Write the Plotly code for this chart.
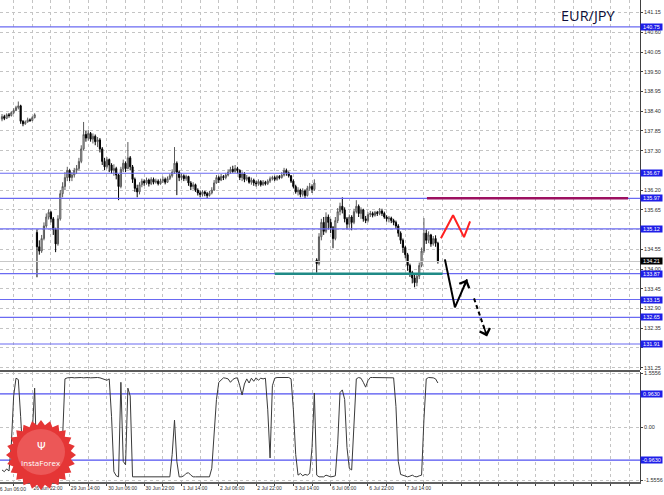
import numpy as np
import plotly.graph_objects as go

# ---------------- data ----------------
symbol = "EUR/JPY"

# time labels (every 16 H1 bars); first label sits 3 bars before the first candle
time_labels = ["26 Jun 06:00", "26 Jun 22:00", "29 Jun 14:00", "30 Jun 06:00",
               "30 Jun 22:00", "1 Jul 14:00", "2 Jul 06:00", "2 Jul 22:00",
               "3 Jul 14:00", "6 Jul 06:00", "6 Jul 22:00", "7 Jul 14:00"]
first_label_bar = -3
bars_per_label = 16
bars_per_grid = 8

price_ticks = [131.25, 131.80, 132.35, 132.90, 133.45, 134.00, 134.55, 135.10,
               135.65, 136.20, 136.75, 137.30, 137.85, 138.40, 138.95, 139.50,
               140.05, 140.60, 141.15]

close = [
    # week 1 (26 Jun 09:00 - 23:00)
    138.25, 138.20, 138.30, 138.28, 138.36, 138.42, 138.50, 138.55, 138.12, 138.05,
    138.10, 138.16, 138.14, 138.22, 138.30,
    # week 2 (29 Jun - 3 Jul)
    134.62, 134.50, 134.85, 135.20, 135.45, 135.58, 135.40, 135.10, 134.70, 135.40,
    136.10, 136.30, 136.55, 136.75, 136.55, 136.62, 136.75, 136.80, 137.00, 137.35,
    137.75, 137.65, 137.78, 137.62, 137.70, 137.55, 137.60, 137.35, 137.00, 136.85,
    137.05, 136.90, 136.75, 136.80, 136.62, 136.30, 136.78, 136.95, 136.80, 137.10,
    136.85, 136.50, 136.25, 136.15, 136.35, 136.45, 136.40, 136.48, 136.38, 136.50,
    136.42, 136.45, 136.38, 136.45, 136.50, 136.42, 136.52, 136.60, 136.70, 136.95,
    136.70, 136.55, 136.60, 136.52, 136.58, 136.40, 136.30, 136.35, 136.20, 136.12,
    136.08, 136.15, 136.10, 136.05, 136.12, 136.20, 136.40, 136.55, 136.48, 136.58,
    136.55, 136.62, 136.70, 136.78, 136.72, 136.80, 136.75, 136.55, 136.65, 136.50,
    136.55, 136.42, 136.48, 136.40, 136.38, 136.44, 136.35, 136.42, 136.38, 136.45,
    136.52, 136.55, 136.50, 136.58, 136.55, 136.62, 136.75, 136.68, 136.60, 136.45,
    136.30, 136.15, 136.20, 136.08, 136.18, 136.05, 136.25, 136.30, 136.22, 136.40,
    # week 3 (6 Jul - 8 Jul)
    134.15, 134.90, 135.30, 135.05, 135.45, 135.30, 135.15, 134.85, 135.35, 135.60,
    135.75, 135.65, 135.40, 135.25, 135.45, 135.30, 135.60, 135.75, 135.55, 135.65,
    135.40, 135.35, 135.52, 135.55, 135.50, 135.58, 135.55, 135.62, 135.55, 135.45,
    135.40, 135.42, 135.35, 135.30, 135.20, 135.00, 134.80, 134.60, 134.40, 134.10,
    133.90, 133.75, 133.62, 133.80, 134.10, 134.50, 135.00, 134.80, 134.95, 134.70,
    134.85, 134.72, 134.21,
]
high = [
    138.32, 138.30, 138.34, 138.35, 138.40, 138.48, 138.55, 138.67, 138.58, 138.15,
    138.14, 138.22, 138.20, 138.26, 138.34,
    135.10, 134.80, 134.95, 135.30, 135.55, 135.66, 135.62, 135.45, 135.15, 135.50,
    136.20, 136.42, 136.70, 136.85, 136.78, 136.70, 136.82, 136.90, 137.10, 137.45,
    138.10, 137.85, 137.88, 137.82, 137.78, 137.75, 137.68, 137.65, 137.40, 137.10,
    137.12, 137.08, 136.95, 136.92, 136.85, 136.65, 136.85, 137.05, 137.00, 137.54,
    137.15, 136.90, 136.55, 136.35, 136.42, 136.52, 136.50, 136.55, 136.52, 136.56,
    136.55, 136.52, 136.50, 136.52, 136.58, 136.55, 136.58, 136.66, 136.78, 137.40,
    137.00, 136.75, 136.68, 136.64, 136.63, 136.60, 136.45, 136.42, 136.38, 136.25,
    136.18, 136.20, 136.18, 136.15, 136.18, 136.28, 136.48, 136.62, 136.60, 136.65,
    136.62, 136.68, 136.78, 136.85, 136.88, 136.90, 136.85, 136.78, 136.72, 136.70,
    136.62, 136.58, 136.55, 136.52, 136.46, 136.50, 136.48, 136.48, 136.46, 136.50,
    136.58, 136.60, 136.60, 136.62, 136.62, 136.70, 136.82, 136.80, 136.72, 136.62,
    136.50, 136.35, 136.28, 136.24, 136.25, 136.22, 136.32, 136.40, 136.36, 136.50,
    134.30, 135.00, 135.40, 135.45, 135.58, 135.52, 135.40, 135.20, 135.45, 135.70,
    135.85, 136.00, 135.72, 135.45, 135.52, 135.50, 135.68, 135.92, 135.80, 135.72,
    135.68, 135.48, 135.58, 135.62, 135.60, 135.62, 135.62, 135.70, 135.68, 135.60,
    135.50, 135.48, 135.46, 135.40, 135.35, 135.25, 135.05, 134.85, 134.65, 134.45,
    134.15, 133.95, 133.85, 133.88, 134.18, 134.60, 135.42, 135.10, 135.05, 134.98,
    134.92, 134.94, 134.76,
]
low = [
    138.12, 138.15, 138.18, 138.22, 138.25, 138.32, 138.40, 138.45, 138.05, 137.98,
    138.02, 138.08, 138.10, 138.12, 138.20,
    133.77, 134.40, 134.45, 134.80, 135.15, 135.38, 135.30, 134.95, 134.47, 134.65,
    135.35, 136.00, 136.20, 136.45, 136.45, 136.45, 136.55, 136.65, 136.75, 136.95,
    137.30, 137.55, 137.58, 137.55, 137.50, 137.45, 137.40, 137.25, 136.90, 136.76,
    136.80, 136.70, 136.66, 136.60, 136.50, 135.92, 136.25, 136.70, 136.70, 136.78,
    136.75, 136.40, 136.15, 136.00, 136.08, 136.28, 136.32, 136.35, 136.30, 136.34,
    136.36, 136.38, 136.33, 136.35, 136.40, 136.36, 136.40, 136.48, 136.55, 136.65,
    136.06, 136.45, 136.48, 136.45, 136.46, 136.32, 136.20, 136.22, 136.15, 136.05,
    136.00, 136.02, 136.03, 135.98, 136.02, 136.08, 136.18, 136.38, 136.40, 136.45,
    136.48, 136.50, 136.58, 136.65, 136.68, 136.68, 136.66, 136.48, 136.45, 136.42,
    136.45, 136.38, 136.35, 136.32, 136.30, 136.32, 136.30, 136.32, 136.33, 136.34,
    136.40, 136.47, 136.45, 136.46, 136.50, 136.52, 136.58, 136.60, 136.55, 136.40,
    136.25, 136.10, 136.05, 136.00, 136.02, 135.97, 136.02, 136.18, 136.12, 136.18,
    133.90, 134.10, 134.80, 134.95, 135.00, 135.10, 135.00, 134.58, 134.80, 135.28,
    135.50, 135.55, 135.30, 135.10, 135.15, 135.08, 135.25, 135.55, 135.45, 135.40,
    135.32, 135.28, 135.30, 135.45, 135.44, 135.46, 135.48, 135.50, 135.48, 135.40,
    135.32, 135.30, 135.28, 135.22, 135.12, 134.90, 134.70, 134.45, 134.30, 133.95,
    133.78, 133.60, 133.49, 133.52, 133.72, 134.05, 134.45, 134.70, 134.72, 134.62,
    134.65, 134.62, 134.15,
]
first_open = 138.18
week_start_bars = [15, 135]
week_start_opens = [135.02, 134.25]

oscillator = [
    -1.25, -1.30, -1.22, -1.28, -0.50, 0.90, 1.42, 1.38, 0.30, -0.90,
    -1.25, -1.45, -1.44, -0.30, 1.13, -1.30, -1.45, -1.45, -1.44, -1.45,
    -1.45, -1.45, -1.44, -1.45, -1.45, -1.45, -0.30, 1.40, 1.43, 1.44,
    1.44, 1.43, 1.44, 1.44, 1.44, 1.43, 1.44, 1.44, 1.43, 1.44,
    1.44, 1.44, 1.43, 1.40, 1.38, 1.36, 1.40, 0.30, -1.30, -1.42,
    -1.45, 1.30, -1.00, -1.10, 1.13, 0.90, -1.45, -1.45, -1.45, -1.45,
    -1.45, -1.45, -1.45, -1.45, -1.45, -1.45, -1.45, -1.45, -1.45, -1.45,
    -1.45, -1.45, -1.45, -0.80, 0.20, -1.00, -1.45, -1.45, -1.42, -1.35,
    -1.33, -1.40, -1.45, -1.45, -1.45, -1.45, -1.45, -1.45, -1.45, -1.45,
    -1.20, -0.20, 0.80, 1.30, 1.38, 1.43, 1.42, 1.40, 1.30, 1.38,
    1.42, 1.43, 1.20, 0.93, 1.25, 1.40, 1.28, 1.42, 1.33, 1.43,
    1.36, 1.42, 1.40, 1.42, 0.50, -0.90, 1.20, 1.42, 1.44, 1.44,
    1.44, 1.44, 1.44, 1.44, 1.40, 0.50, -0.80, -1.40, -1.35, -1.42,
    -1.38, -1.40, -1.35, -0.60, 0.99, -1.40, -1.45, -1.44, -1.45, -1.40,
    -1.43, -1.45, -1.44, -1.42, -0.50, 1.00, 1.08, 0.80, -0.60, -1.20,
    -1.25, 0.30, 1.40, 1.44, 1.42, 1.30, 1.16, 1.35, 1.44, 1.44,
    1.44, 1.43, 1.44, 1.44, 1.44, 1.43, 1.44, 1.44, 1.43, 0.60,
    -1.00, -1.38, -1.40, -1.42, -1.45, -1.43, -1.40, -1.44, -1.45, -1.42,
    -1.40, 0.20, 1.40, 1.44, 1.44, 1.43, 1.40, 1.28,
]
osc_level = 0.9630
osc_extreme = 1.5556

levels = [140.75, 136.67, 135.97, 135.12, 133.87, 133.15, 132.65, 131.91]
last_price = 134.21

support_level = 133.87
support_bars = [117, 189]
resistance_level = 135.97
resistance_bars = [182.3, 268.6]

red_path_x = [188.3, 193.5, 198.2, 200.8]
red_path_y = [134.86, 135.50, 134.89, 135.33]
arrow_solid_x = [190.0, 194.3, 199.5]
arrow_solid_y = [134.27, 132.93, 133.71]
arrow_dash_x = [202.5, 208.1]
arrow_dash_y = [133.18, 132.12]

# ---------------- geometry ----------------
W, H = 664, 495
ML, MR, MT, MB = 0, 24, 0, 13
PW, PH = W - ML - MR, H - MT - MB          # plot area 640 x 482
PRICE_H, SEP = 370, 2
X_RANGE = [-0.86, 273.7]
Y_RANGE = [131.185, 141.50]
OSC_RANGE = [-1.60, 1.60]

n = len(close)
bars = list(range(n))
opens = [first_open] + close[:-1]
for b, o in zip(week_start_bars, week_start_opens):
    opens[b] = o

FONT = "Liberation Sans"
AX_COL = "#404040"
GRID_COL = "#c4c4c4"
LEVEL_COL = "#6a6af2"
BOX_COL = "#1e1ee8"

fig = go.Figure()

# level lines
for lv in levels:
    fig.add_trace(go.Scatter(x=X_RANGE, y=[lv, lv], mode="lines",
                             line=dict(color=LEVEL_COL, width=1.2),
                             hoverinfo="skip", showlegend=False,
                             xaxis="x", yaxis="y"))
fig.add_trace(go.Scatter(x=X_RANGE, y=[last_price, last_price], mode="lines",
                         line=dict(color="#c8c8c8", width=1),
                         hoverinfo="skip", showlegend=False))

# candles
fig.add_trace(go.Candlestick(
    x=bars, open=opens, high=high, low=low, close=close,
    increasing=dict(line=dict(color="#5a5a5a", width=1), fillcolor="#d8d8d8"),
    decreasing=dict(line=dict(color="#000000", width=1), fillcolor="#000000"),
    whiskerwidth=0, hoverinfo="skip", showlegend=False, xaxis="x", yaxis="y"))

# support / resistance segments
fig.add_trace(go.Scatter(x=support_bars, y=[support_level] * 2, mode="lines",
                         line=dict(color="#1f8a86", width=2.5),
                         hoverinfo="skip", showlegend=False))
fig.add_trace(go.Scatter(x=resistance_bars, y=[resistance_level] * 2, mode="lines",
                         line=dict(color="#9c1060", width=2.5),
                         hoverinfo="skip", showlegend=False))

# forecast drawings
fig.add_trace(go.Scatter(x=red_path_x, y=red_path_y, mode="lines",
                         line=dict(color="#ff2020", width=2),
                         hoverinfo="skip", showlegend=False))
fig.add_trace(go.Scatter(x=arrow_solid_x, y=arrow_solid_y, mode="lines",
                         line=dict(color="#000000", width=2),
                         hoverinfo="skip", showlegend=False))
fig.add_trace(go.Scatter(x=arrow_dash_x, y=arrow_dash_y, mode="lines",
                         line=dict(color="#000000", width=2, dash="4px,3px"),
                         hoverinfo="skip", showlegend=False))

# oscillator
for lv in (osc_level, -osc_level):
    fig.add_trace(go.Scatter(x=X_RANGE, y=[lv, lv], mode="lines",
                             line=dict(color="#5050f0", width=1.2),
                             hoverinfo="skip", showlegend=False,
                             xaxis="x2", yaxis="y2"))
fig.add_trace(go.Scatter(x=bars, y=oscillator, mode="lines",
                         line=dict(color="#3a3a3a", width=1),
                         hoverinfo="skip", showlegend=False,
                         xaxis="x2", yaxis="y2"))

# ---------------- axes ----------------
grid_vals = [first_label_bar + bars_per_grid * m for m in range(0, 40)
             if X_RANGE[0] <= first_label_bar + bars_per_grid * m <= X_RANGE[1]]
step = bars_per_label // bars_per_grid
grid_text = []
for v in grid_vals:
    m = (v - first_label_bar) // bars_per_grid
    k = m // step
    grid_text.append(time_labels[k] if (m % step == 0 and k < len(time_labels)) else "")

# price tick labels that sit under a level box are hidden by it (as on the terminal)
price_text = ["" if min(abs(v - lv) for lv in levels) < 0.12 else f"{v:.2f}"
              for v in price_ticks]

price_dom0 = (PH - PRICE_H) / PH
osc_dom1 = (PH - PRICE_H - SEP) / PH

fig.update_layout(
    width=W, height=H, autosize=False,
    margin=dict(l=ML, r=MR, t=MT, b=MB, pad=0, autoexpand=False),
    paper_bgcolor="white", plot_bgcolor="white",
    showlegend=False,
    xaxis=dict(domain=[0, 1], range=X_RANGE, anchor="y", matches="x2",
               tickvals=grid_vals, showticklabels=False, ticks="",
               showgrid=True, gridcolor=GRID_COL, griddash="dot", gridwidth=1,
               zeroline=False, showline=False, automargin=False,
               rangeslider=dict(visible=False)),
    yaxis=dict(domain=[price_dom0, 1], range=Y_RANGE, anchor="x", side="right",
               tickvals=price_ticks, ticktext=price_text,
               showgrid=True, gridcolor=GRID_COL, griddash="dot", gridwidth=1,
               zeroline=False, showline=True, linecolor=AX_COL, linewidth=1,
               ticks="outside", ticklen=2, tickcolor=AX_COL, automargin=False,
               tickfont=dict(family=FONT, size=5.5, color="#303030")),
    xaxis2=dict(domain=[0, 1], range=X_RANGE, anchor="y2",
                tickvals=grid_vals, ticktext=grid_text, tickangle=0,
                ticklabelposition="outside right", automargin=False,
                showgrid=True, gridcolor=GRID_COL, griddash="dot", gridwidth=1,
                ticks="outside", ticklen=2, tickcolor=AX_COL,
                zeroline=False, showline=True, linecolor="#606060", linewidth=1.5,
                tickfont=dict(family=FONT, size=5, color="#303030"),
                rangeslider=dict(visible=False)),
    yaxis2=dict(domain=[0, osc_dom1], range=OSC_RANGE, anchor="x2", side="right",
                tickvals=[osc_extreme, 0, -osc_extreme],
                ticktext=[f"{osc_extreme:.4f}", "0.00", f"{-osc_extreme:.4f}"],
                showgrid=True, gridcolor=GRID_COL, griddash="dot",
                zeroline=False, showline=True, linecolor=AX_COL, linewidth=1,
                ticks="outside", ticklen=2, tickcolor=AX_COL, automargin=False,
                tickfont=dict(family=FONT, size=5.5, color="#303030")),
)

ann = []
# first (clipped) time label
ann.append(dict(xref="paper", yref="paper",
                x=(first_label_bar - X_RANGE[0]) / (X_RANGE[1] - X_RANGE[0]), y=0,
                xanchor="left", yanchor="top", yshift=-2, showarrow=False,
                text=time_labels[0], font=dict(family=FONT, size=5, color="#303030")))
# level boxes
for lv in levels:
    ann.append(dict(xref="paper", yref="y", x=1, y=lv, xanchor="left", yanchor="middle",
                    text=f"{lv:.2f}", showarrow=False, bgcolor=BOX_COL,
                    width=21, height=6, borderpad=0,
                    font=dict(family=FONT, size=5.5, color="white")))
ann.append(dict(xref="paper", yref="y", x=1, y=last_price, xanchor="left", yanchor="middle",
                text=f"{last_price:.2f}", showarrow=False, bgcolor="#000000",
                width=21, height=6, borderpad=0,
                font=dict(family=FONT, size=5.5, color="white")))
for lv in (osc_level, -osc_level):
    ann.append(dict(xref="paper", yref="y2", x=1, y=lv, xanchor="left", yanchor="middle",
                    text=f"{lv:.4f}", showarrow=False, bgcolor=BOX_COL,
                    width=21, height=6, borderpad=0,
                    font=dict(family=FONT, size=5.5, color="white")))
# arrowheads
for xs, ys in ((arrow_solid_x, arrow_solid_y), (arrow_dash_x, arrow_dash_y)):
    tx, ty = xs[-1], ys[-1]
    bx = tx + 0.3 * (xs[-2] - tx)
    by = ty + 0.3 * (ys[-2] - ty)
    ann.append(dict(xref="x", yref="y", axref="x", ayref="y", x=tx, y=ty, ax=bx, ay=by,
                    text="", showarrow=True, arrowhead=4, arrowsize=1.3,
                    arrowwidth=1.6, arrowcolor="#000000", standoff=0, startstandoff=0))
# title
ann.append(dict(xref="paper", yref="paper", x=618 / PW, y=1 - 4 / PH,
                xanchor="right", yanchor="top", showarrow=False, text=symbol,
                font=dict(family="Open Sans", size=14.5, color="#0e0e38")))

# logo (InstaForex badge)
cx, cy = 41, 455
def to_paper(px, py):
    return px / PW, 1 - py / PH
spikes = 24
pts = []
for i in range(spikes * 2):
    r = 35 if i % 2 == 0 else 30
    t = np.pi * i / spikes
    pts.append(to_paper(cx + r * np.cos(t), cy + r * np.sin(t)))
path = "M " + " L ".join(f"{x:.5f},{y:.5f}" for x, y in pts) + " Z"
shapes = [
    dict(type="path", xref="paper", yref="paper", path=path,
         fillcolor="#e53535", line=dict(width=0), layer="above"),
    dict(type="circle", xref="paper", yref="paper",
         x0=to_paper(cx - 24, 0)[0], x1=to_paper(cx + 24, 0)[0],
         y0=to_paper(0, cy - 26)[1], y1=to_paper(0, cy + 20)[1],
         fillcolor="#f47a7a", opacity=0.5, line=dict(width=0), layer="above"),
    dict(type="line", xref="paper", yref="paper", x0=0, x1=1,
         y0=(PH - PRICE_H - 1) / PH, y1=(PH - PRICE_H - 1) / PH,
         line=dict(color="#5a5a5a", width=2)),
]
lx, ly = to_paper(cx, cy - 9)
ann.append(dict(xref="paper", yref="paper", x=lx, y=ly, xanchor="center", yanchor="middle",
                showarrow=False, text="Ψ",
                font=dict(family="DejaVu Sans", size=11, color="white")))
lx, ly = to_paper(cx, cy + 7)
ann.append(dict(xref="paper", yref="paper", x=lx, y=ly, xanchor="center", yanchor="middle",
                showarrow=False, text="InstaForex",
                font=dict(family="Open Sans", size=8, color="white")))

fig.update_layout(annotations=ann, shapes=shapes)
fig.write_html("out.html",
               config={"displayModeBar": False, "staticPlot": True},
               post_script="document.body.style.margin='0';"
                           "document.body.style.overflow='hidden';")
